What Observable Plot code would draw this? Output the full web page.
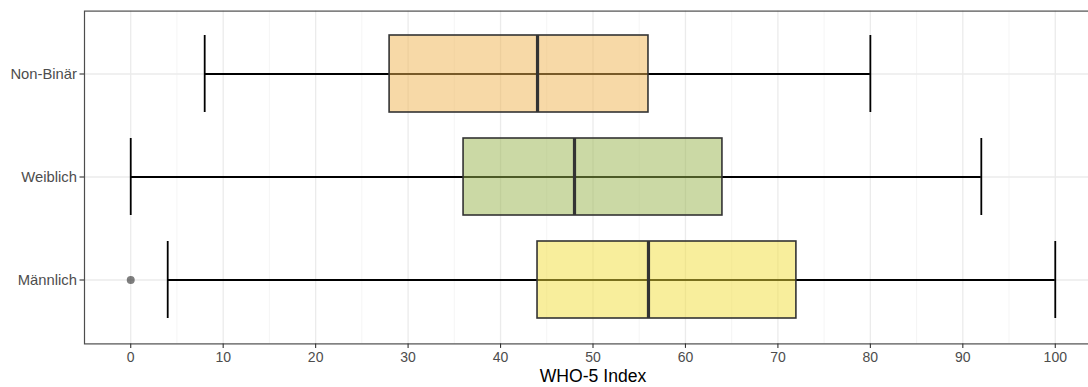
<!DOCTYPE html>
<html>
<head>
<meta charset="utf-8">
<script src="https://cdn.jsdelivr.net/npm/d3@7"></script>
<script src="https://cdn.jsdelivr.net/npm/@observablehq/plot@0.6"></script>
<style>
  html, body { margin: 0; padding: 0; background: white; overflow: hidden; }
  #chart svg { overflow: hidden; display: block; }
</style>
</head>
<body>
<div id="chart"></div>
<script>
// Data
const groups  = ["Non-Binär", "Weiblich", "Männlich"];
const lower   = [8, 0, 4];
const q1      = [28, 36, 44];
const median  = [44, 48, 56];
const q3      = [56, 64, 72];
const upper   = [80, 92, 100];
const fills   = ["#EFB34F", "#97B34B", "#F1DD39"];
const outlierGroups = ["Männlich"];
const outlierValues = [0];
const xTicks = [0, 10, 20, 30, 40, 50, 60, 70, 80, 90, 100];
const xMinor = [5, 15, 25, 35, 45, 55, 65, 75, 85, 95, 105];
const xLabel = "WHO-5 Index";

const boxes = groups.map((g, i) => ({
  group: g, lower: lower[i], q1: q1[i], median: median[i], q3: q3[i], upper: upper[i], fill: fills[i]
}));
const outliers = outlierGroups.map((g, i) => ({group: g, value: outlierValues[i]}));

const font = "'Liberation Sans', Arial, Helvetica, sans-serif";

const chart = Plot.plot({
  width: 1088,
  height: 387,
  marginLeft: 84,
  marginRight: -13,
  marginTop: 10.6,
  marginBottom: 43.6,
  style: { fontFamily: font, background: "white", overflow: "hidden" },
  x: { domain: [-5, 105] },
  y: { type: "band", domain: groups, paddingInner: 0.25, paddingOuter: 0.225 },
  marks: [
    // minor grid
    Plot.ruleX(xMinor, { stroke: "#F2F2F2", strokeWidth: 0.8 }),
    // major grid
    Plot.ruleX(xTicks, { stroke: "#EBEBEB", strokeWidth: 1.3 }),
    Plot.ruleY(groups, { y: d => d, stroke: "#EBEBEB", strokeWidth: 1.3 }),
    // whisker line (full range)
    Plot.ruleY(boxes, { y: "group", x1: "lower", x2: "upper", stroke: "black", strokeWidth: 1.8 }),
    // whisker caps
    Plot.tickX(boxes, { y: "group", x: "lower", stroke: "black", strokeWidth: 1.8 }),
    Plot.tickX(boxes, { y: "group", x: "upper", stroke: "black", strokeWidth: 1.8 }),
    // box
    Plot.barX(boxes, { y: "group", x1: "q1", x2: "q3", fill: d => d.fill, fillOpacity: 0.5, stroke: "#333333", strokeWidth: 1.6 }),
    // median
    Plot.tickX(boxes, { y: "group", x: "median", stroke: "#333333", strokeWidth: 3.2 }),
    // outliers
    Plot.dot(outliers, { y: "group", x: "value", r: 4, fill: "black", fillOpacity: 0.5, stroke: "none" }),
    // panel border
    Plot.frame({ stroke: "#4D4D4D", strokeWidth: 1.2 }),
    // axes
    Plot.axisX(xTicks, { tickSize: 4.5, tickPadding: 3.5, fontSize: 14, color: "#4D4D4D", stroke: "#333333", strokeWidth: 1.1, label: null }),
    Plot.axisY({ tickSize: 4.5, tickPadding: 3, fontSize: 14.8, color: "#4D4D4D", stroke: "#333333", strokeWidth: 1.1, label: null }),
    // axis title
    Plot.text([xLabel], { frameAnchor: "bottom", dy: 38.5, fontSize: 17.6, fill: "black", text: d => d })
  ]
});
document.getElementById("chart").appendChild(chart);
</script>
</body>
</html>
